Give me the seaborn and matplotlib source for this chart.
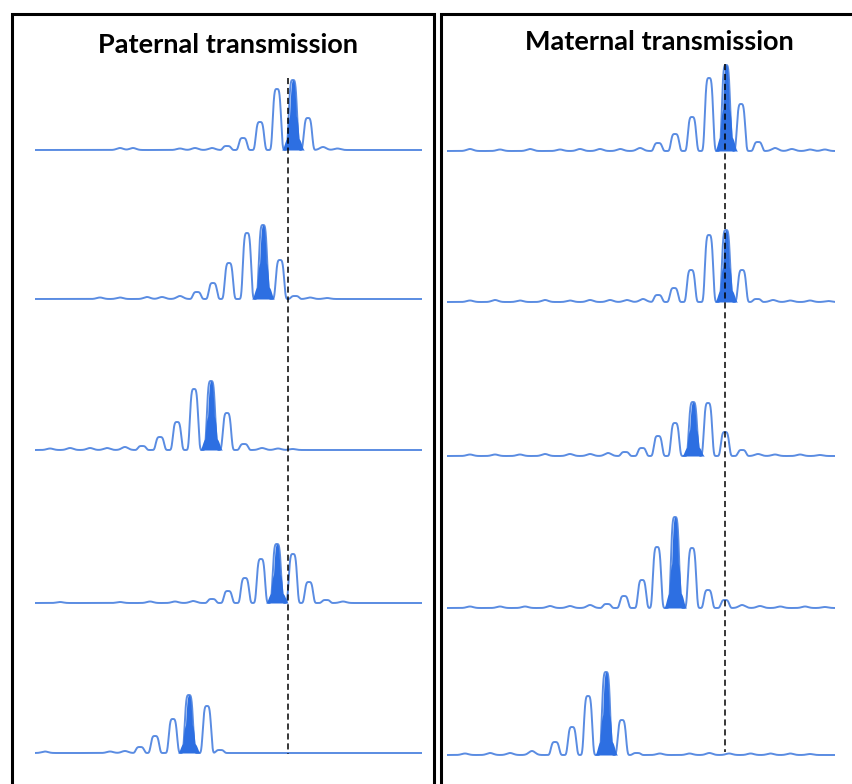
import numpy as np
import pandas as pd
import matplotlib
matplotlib.use("Agg")
import matplotlib.pyplot as plt
import seaborn as sns
from matplotlib.patches import Rectangle

# ---------------------------------------------------------------------------
# Capillary electrophoresis traces: stutter peaks per lane (repeat units),
# the highlighted allele peak, and small baseline bumps.
# ---------------------------------------------------------------------------
panel_titles = ["Paternal transmission", "Maternal transmission"]

# Paternal lanes (top to bottom)
pat_peak_pos = [
    [12.0, 13.0, 14.06, 15.12, 17.06],
    [10.12, 11.12, 12.12, 13.25, 15.31, 16.25],
    [6.69, 7.81, 8.88, 9.94, 12.0, 13.06],
    [11.06, 12.06, 13.12, 14.12, 16.12, 17.12, 18.19],
    [6.56, 7.5, 8.62, 10.75, 11.56],
]
pat_peak_h = [
    [4, 12, 28, 61, 32],
    [7, 16, 36, 66, 39, 3],
    [4, 13, 28, 61, 37, 6],
    [4, 12, 25, 44, 49, 21, 3],
    [6, 17, 34, 47, 3],
]
pat_allele_pos = [16.12, 14.25, 11.0, 15.12, 9.62]
pat_allele_h = [70, 74, 69, 59, 58]
pat_bump_pos = [
    [5.31, 6.12, 9.06, 10.0, 11.06, 18.0, 18.9],
    [4.06, 5.31, 7.0, 7.94, 9.06, 17.19, 18.25],
    [0.94, 2.19, 3.44, 4.5, 5.62, 14.19, 15.19, 16.1],
    [1.56, 5.31, 7.19, 8.75, 9.88, 19.25],
    [0.62, 4.69, 5.62],
]
pat_bump_h = [
    [2, 2, 1.5, 2, 2, 3, 1.5],
    [1.5, 1.5, 2, 2, 3, 1.5, 1],
    [1.5, 2, 2, 2, 3, 2, 1.5, 1],
    [1, 1, 1.5, 1.5, 2, 1.5],
    [1.5, 1.5, 2],
]
pat_reference = 15.81

# Maternal lanes (top to bottom)
mat_peak_pos = [
    [12.79, 13.82, 14.85, 15.88, 17.82, 18.85],
    [12.79, 13.76, 14.79, 15.88, 17.88, 18.79],
    [10.79, 11.82, 12.79, 13.82, 15.82, 16.85, 17.88],
    [9.7, 10.73, 11.82, 12.73, 14.85, 15.82, 16.85],
    [6.55, 7.58, 8.55, 10.6, 11.5],
]
mat_peak_h = [
    [8, 17, 34, 73, 47, 9],
    [7, 14, 32, 67, 32, 3],
    [4, 8, 20, 33, 53, 24, 6],
    [4, 12, 28, 61, 60, 18, 8],
    [13, 28, 59, 35, 2],
]
mat_allele_pos = [16.91, 16.91, 14.91, 13.82, 9.64]
mat_allele_h = [86, 72, 54, 91, 83]
mat_bump_pos = [
    [1.39, 3.21, 5.03, 6.85, 8.06, 9.27, 10.5, 11.7, 19.88, 20.9, 22.0, 22.9],
    [1.39, 2.91, 4.42, 5.94, 7.45, 8.67, 9.88, 10.9, 11.88, 19.76, 20.8, 22.0, 23.1],
    [1.39, 2.91, 4.42, 5.94, 7.45, 8.67, 9.76, 18.85, 19.88, 21.4, 22.6],
    [1.39, 3.21, 4.73, 6.24, 7.45, 8.67, 17.88, 18.97, 20.2, 21.7, 22.9],
    [1.09, 2.61, 3.82, 5.15, 12.9, 14.7, 15.9, 17.1, 18.4, 19.6, 20.8, 22.0],
]
mat_bump_h = [
    [2, 1.5, 2, 1.5, 2, 2, 2, 3, 3, 2, 1.5, 1.5],
    [1.5, 2, 1.5, 2, 1.5, 2, 2, 2, 3, 2, 1.5, 1.5, 1],
    [1.5, 1.5, 1.5, 2, 2, 2, 3, 2, 1.5, 1.5, 1],
    [1.5, 1.5, 1.5, 2, 2, 3, 3, 2, 1.5, 1.5, 1],
    [1.5, 2, 2, 4, 1.5, 1.5, 2, 1.5, 1.5, 1.5, 1.5, 1],
]
mat_reference = 16.85

# ---------------------------------------------------------------------------
# Layout
# ---------------------------------------------------------------------------
W, H = 852, 784
LINE = "#5a8ce2"
FILL = "#2d6fe2"

panels = [
    dict(title=panel_titles[0], peak_pos=pat_peak_pos, peak_h=pat_peak_h,
         allele_pos=pat_allele_pos, allele_h=pat_allele_h,
         bump_pos=pat_bump_pos, bump_h=pat_bump_h, ref=pat_reference,
         x0=35, x1=422, px_per_unit=16.0,
         baselines=[150, 299, 450, 603, 753], ref_top=78, ref_bottom=754,
         title_xy=(228, 45), box=(11.5, 433.5)),
    dict(title=panel_titles[1], peak_pos=mat_peak_pos, peak_h=mat_peak_h,
         allele_pos=mat_allele_pos, allele_h=mat_allele_h,
         bump_pos=mat_bump_pos, bump_h=mat_bump_h, ref=mat_reference,
         x0=447, x1=835, px_per_unit=16.5,
         baselines=[151, 302, 456, 608, 755], ref_top=64, ref_bottom=752,
         title_xy=(659, 42), box=(441.5, 900)),
]

sns.set_theme(style="white")
plt.rcParams["font.family"] = ["Lato", "DejaVu Sans"]

fig = plt.figure(figsize=(W / 100, H / 100), dpi=100)


def gauss(x, c, s):
    return np.exp(-0.5 * ((x - c) / s) ** 2)


def flat(x, c, hw, p=6):
    return np.exp(-np.abs((x - c) / hw) ** p)


for pnl in panels:
    ppu = pnl["px_per_unit"]
    xmax = (pnl["x1"] - pnl["x0"]) / ppu
    ax = fig.add_axes([pnl["x0"] / W, 0, (pnl["x1"] - pnl["x0"]) / W, 1])
    ax.set_xlim(0, xmax)
    ax.set_ylim(H, 0)
    ax.axis("off")
    ax.patch.set_alpha(0)

    x = np.linspace(0, xmax, 6000)
    hw_peak = 4.6 / ppu
    sig_bump = 3.2 / ppu

    for i, base in enumerate(pnl["baselines"]):
        signal = np.zeros_like(x)
        for c, h in zip(pnl["peak_pos"][i], pnl["peak_h"][i]):
            signal += h * flat(x, c, hw_peak, p=4)
        for c, h in zip(pnl["bump_pos"][i], pnl["bump_h"][i]):
            signal += h * gauss(x, c, sig_bump)
        ac, ah = pnl["allele_pos"][i], pnl["allele_h"][i]
        signal += ah * flat(x, ac, hw_peak, p=4)

        df = pd.DataFrame({"size": x, "rfu": base - signal})
        sns.lineplot(data=df, x="size", y="rfu", ax=ax, color=LINE,
                     lw=1.4, sort=False, estimator=None, zorder=2)

        # highlighted allele peak
        prof = np.maximum.reduce([
            ah * flat(x, ac, 3.8 / ppu, p=3),
            0.5 * ah * flat(x, ac, 6.0 / ppu),
            0.18 * ah * flat(x, ac, 9.0 / ppu),
        ])
        mask = prof > 0.3
        ax.fill_between(x[mask], base, base - prof[mask], color=FILL,
                        lw=0, zorder=3)

    # reference allele size
    ax.vlines(pnl["ref"], pnl["ref_top"], pnl["ref_bottom"], colors="black",
              lw=1.1, linestyles=(0, (4, 2.5)), zorder=4)

    fig.text(pnl["title_xy"][0] / W, 1 - pnl["title_xy"][1] / H, pnl["title"],
             ha="center", va="center", fontsize=19.5, fontweight="bold",
             color="black")

    bx0, bx1 = pnl["box"]
    fig.add_artist(Rectangle((bx0 / W, -0.1), (bx1 - bx0) / W,
                             1.1 - 13.5 / H, transform=fig.transFigure,
                             fill=False, edgecolor="black", lw=2.2,
                             clip_on=False))

fig.savefig("out.png", dpi=100, facecolor="white")
